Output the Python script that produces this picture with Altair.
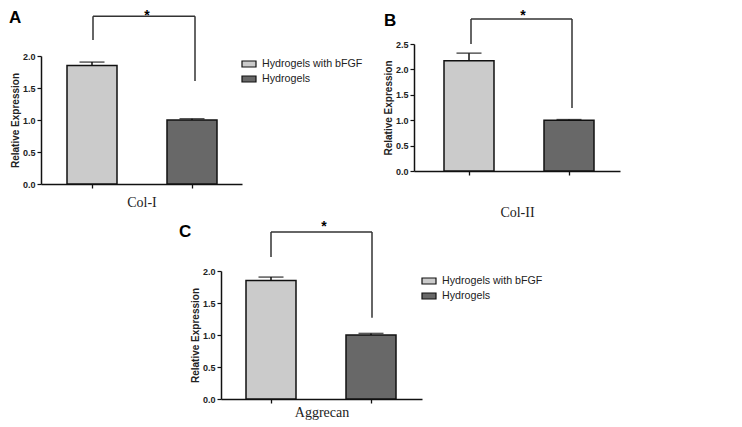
import altair as alt
import pandas as pd

# ---- data ----
groups = ["Hydrogels with bFGF", "Hydrogels"]
positions = [1, 2]
genes = ["Col-I", "Col-II", "Aggrecan"]
letters = ["A", "B", "C"]
colI_mean = [1.85, 1.00]
colI_err = [0.055, 0.02]
colII_mean = [2.17, 1.00]
colII_err = [0.15, 0.012]
aggr_mean = [1.85, 1.00]
aggr_err = [0.055, 0.025]
ticks_2 = [0.0, 0.5, 1.0, 1.5, 2.0]
ticks_25 = [0.0, 0.5, 1.0, 1.5, 2.0, 2.5]
sig_text = "*"

fill_colors = ["#cbcbcb", "#686868"]
INK = "#111111"
TXT = "#222222"

legend_path = "M-1,-0.43L1,-0.43L1,0.43L-1,0.43Z"


def panel(gene, letter, means, errs, cfg):
    df = pd.DataFrame({
        "group": groups,
        "pos": positions,
        "mean": means,
        "upper": [m + e for m, e in zip(means, errs)],
    })
    xs = alt.Scale(domain=cfg["xdom"], nice=False, zero=False, padding=0)
    if "yrange" in cfg:
        ys = alt.Scale(domain=cfg["ydom"], nice=False, padding=0, range=cfg["yrange"])
    else:
        ys = alt.Scale(domain=cfg["ydom"], nice=False, padding=0)
    xa = alt.Axis(
        values=[1, 2], labels=False, title=gene, grid=False,
        titleFont="Liberation Serif", titleFontSize=14, titleFontWeight="normal",
        titleColor=TXT, titlePadding=cfg["xtp"], tickSize=4, tickWidth=1.3,
        tickColor=INK, domainColor=INK, domainWidth=1.5)
    ya = alt.Axis(
        values=cfg["yticks"], format=".1f", title="Relative Expression", grid=False,
        labelFont="Liberation Sans", labelFontSize=9, labelFontWeight="bold",
        labelColor=TXT, labelPadding=2, labelOverlap=False, tickSize=4, tickWidth=1.2,
        tickColor=INK, domainColor=INK, domainWidth=1.5, titleFont="Liberation Sans",
        titleFontSize=10, titleFontWeight="bold", titleColor=TXT, titlePadding=2)

    base = alt.Chart(df)
    bars = base.mark_bar(size=50, stroke=INK, strokeWidth=1.5, orient="vertical").encode(
        x=alt.X("pos:Q", scale=xs, axis=xa),
        y=alt.Y("mean:Q", scale=ys, stack=False, axis=ya),
        fill=alt.Fill("group:N", scale=alt.Scale(domain=groups, range=fill_colors),
                      legend=alt.Legend(
                          orient="none", legendX=cfg["lx"], legendY=cfg["ly"], title=None,
                          symbolType=legend_path, symbolSize=196, symbolStrokeColor=INK,
                          symbolStrokeWidth=1.2, labelFont="Liberation Sans",
                          labelFontSize=10.7, labelColor=TXT, labelOffset=5,
                          rowPadding=1, padding=0)),
    )
    stem = base.mark_rule(color=INK, strokeWidth=1.5).encode(
        x=alt.X("pos:Q", scale=xs, axis=xa),
        y=alt.Y("mean:Q", scale=ys, axis=ya),
        y2="upper:Q",
    )
    cap = base.mark_tick(orient="horizontal", size=25, thickness=1.5, color=INK).encode(
        x=alt.X("pos:Q", scale=xs, axis=xa),
        y=alt.Y("upper:Q", scale=ys, axis=ya),
    )
    b = cfg["bracket"]
    br_df = pd.DataFrame({
        "pos": [b["xl"], b["xl"], b["xr"]],
        "pos2": [b["xl"], b["xr"], b["xr"]],
        "mean": [b["yl"], b["top"], b["top"]],
        "mean2": [b["top"], b["top"], b["yr"]],
    })
    bracket = alt.Chart(br_df).mark_rule(color="#333333", strokeWidth=1.5).encode(
        x=alt.X("pos:Q", scale=xs, axis=xa), x2="pos2:Q",
        y=alt.Y("mean:Q", scale=ys, axis=ya), y2="mean2:Q",
    )
    txt_df = pd.DataFrame({
        "pos": [cfg["letter_xy"][0], cfg["star_xy"][0]],
        "mean": [cfg["letter_xy"][1], cfg["star_xy"][1]],
        "t": [letter, sig_text],
        "kind": ["letter", "star"],
    })
    letter_mark = alt.Chart(txt_df).transform_filter(alt.datum.kind == "letter").mark_text(
        font="Liberation Sans", fontSize=17, fontWeight="bold", color="#000000",
        align="left", baseline="top").encode(
        x=alt.X("pos:Q", scale=xs, axis=xa), y=alt.Y("mean:Q", scale=ys, axis=ya), text="t:N")
    star_mark = alt.Chart(txt_df).transform_filter(alt.datum.kind == "star").mark_text(
        font="Liberation Sans", fontSize=14, fontWeight="bold", color="#000000",
        align="center", baseline="top").encode(
        x=alt.X("pos:Q", scale=xs, axis=xa), y=alt.Y("mean:Q", scale=ys, axis=ya), text="t:N")

    return alt.layer(bars, stem, cap, bracket, letter_mark, star_mark).properties(
        width=cfg["w"], height=cfg["h"])


cfgA = dict(xdom=[0.49, 2.50], ydom=[0, 2], yrange=[140, 12], w=201, h=140, yticks=ticks_2,
            xtp=7, lx=200, ly=12,
            bracket=dict(xl=1.01, xr=2.03, top=2.62, yl=2.25, yr=1.61),
            letter_xy=(0.17, 2.72), star_xy=(1.55, 2.73))
cfgB = dict(xdom=[0.45, 2.51], ydom=[0, 2.5], w=206, h=127, yticks=ticks_25,
            xtp=30, lx=207, ly=0,
            bracket=dict(xl=1.02, xr=2.03, top=2.99, yl=2.5, yr=1.24),
            letter_xy=(0.15, 3.11), star_xy=(1.54, 3.19))
cfgC = dict(xdom=[0.50, 2.51], ydom=[0, 2], w=201, h=128, yticks=ticks_2,
            xtp=2, lx=380, ly=2,
            bracket=dict(xl=1.0, xr=2.01, top=2.61, yl=2.22, yr=1.27),
            letter_xy=(0.08, 2.73), star_xy=(1.53, 2.80))

pA = panel(genes[0], letters[0], colI_mean, colI_err, cfgA)
pB = panel(genes[1], letters[1], colII_mean, colII_err, cfgB)
pC = panel(genes[2], letters[2], aggr_mean, aggr_err, cfgC)

spacer = alt.Chart(pd.DataFrame({"v": [0]})).mark_point(opacity=0, size=1).encode(
    x=alt.X("v:Q", scale=alt.Scale(domain=[0, 1]), axis=None),
    y=alt.Y("v:Q", scale=alt.Scale(domain=[0, 1]), axis=None)).properties(width=180, height=10)

top_row = alt.hconcat(pA, pB, spacing=172, bounds="flush")
bottom_row = alt.hconcat(spacer, pC, spacing=0, bounds="flush")

chart = alt.vconcat(top_row, bottom_row, spacing=-2).resolve_scale(
    fill="independent", x="independent", y="independent").resolve_legend(
    fill="independent").properties(
    padding={"left": 0, "top": 0, "right": 0, "bottom": 0}).configure(
    font="Liberation Sans").configure_view(stroke="transparent")

chart.save("out.html", embed_options={"renderer": "svg", "actions": False})
